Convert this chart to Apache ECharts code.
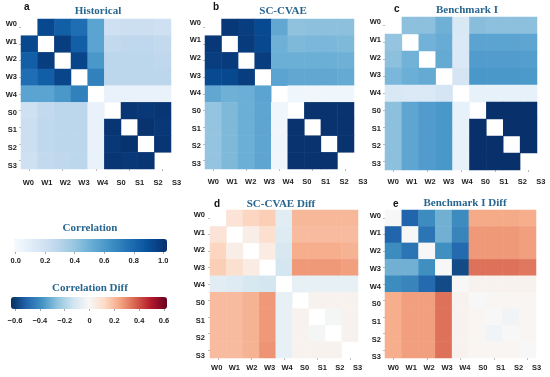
<!DOCTYPE html>
<html><head><meta charset="utf-8">
<script src="https://cdn.jsdelivr.net/npm/echarts@6/dist/echarts.min.js"></script>
<style>html,body{margin:0;padding:0;background:#fff}#c{width:550px;height:377px}</style>
</head><body><div id="c"></div>
<script>
// ---------- data ----------
const labels = ['W0','W1','W2','W3','W4','S0','S1','S2','S3'];

const historical = [
  [null,0.91,0.82,0.76,0.55,0.21,0.22,0.22,0.21],
  [0.91,null,0.95,0.82,0.55,0.26,0.27,0.27,0.26],
  [0.82,0.95,null,0.92,0.60,0.28,0.28,0.28,0.27],
  [0.76,0.82,0.92,null,0.69,0.28,0.28,0.28,0.28],
  [0.55,0.55,0.60,0.69,null,0.07,0.07,0.07,0.07],
  [0.21,0.26,0.28,0.28,0.07,null,0.98,0.97,0.98],
  [0.22,0.27,0.28,0.28,0.07,0.98,null,0.99,0.97],
  [0.22,0.27,0.28,0.28,0.07,0.97,0.99,null,0.98],
  [0.21,0.26,0.27,0.28,0.07,0.98,0.97,0.98,null]
];
const scCvae = [
  [null,0.97,0.95,0.90,0.53,0.41,0.42,0.42,0.42],
  [0.97,null,0.96,0.91,0.49,0.45,0.46,0.46,0.45],
  [0.95,0.96,null,0.95,0.50,0.50,0.50,0.50,0.49],
  [0.90,0.91,0.95,null,0.55,0.53,0.53,0.53,0.52],
  [0.53,0.49,0.50,0.55,null,0.04,0.04,0.04,0.04],
  [0.40,0.45,0.50,0.54,0.04,null,0.99,0.99,0.99],
  [0.40,0.45,0.50,0.54,0.04,0.99,null,0.99,0.99],
  [0.40,0.45,0.50,0.54,0.04,0.99,0.99,null,0.99],
  [0.40,0.45,0.50,0.54,0.04,0.99,0.99,0.99,null]
];
const benchmark = [
  [null,0.42,0.42,0.49,0.15,0.43,0.42,0.42,0.42],
  [0.40,null,0.48,0.51,0.14,0.55,0.55,0.55,0.54],
  [0.42,0.48,null,0.52,0.14,0.58,0.58,0.58,0.57],
  [0.46,0.50,0.52,null,0.17,0.60,0.60,0.60,0.59],
  [0.15,0.14,0.14,0.17,null,0.08,0.08,0.08,0.08],
  [0.42,0.54,0.58,0.60,0.08,null,1.00,1.00,1.00],
  [0.42,0.54,0.58,0.60,0.08,1.00,null,1.00,1.00],
  [0.42,0.54,0.58,0.60,0.08,1.00,1.00,null,1.00],
  [0.42,0.54,0.58,0.60,0.08,1.00,1.00,1.00,null]
];
const scCvaeDiff = [
  [null,0.08,0.13,0.15,-0.07,0.20,0.20,0.20,0.20],
  [0.08,null,0.04,0.10,-0.08,0.19,0.19,0.19,0.19],
  [0.13,0.04,null,0.05,-0.10,0.22,0.22,0.22,0.21],
  [0.15,0.10,0.05,null,-0.11,0.26,0.26,0.26,0.25],
  [-0.07,-0.08,-0.10,-0.11,null,-0.05,-0.05,-0.05,-0.05],
  [0.19,0.19,0.21,0.26,-0.05,null,0.02,0.02,0.02],
  [0.19,0.19,0.21,0.26,-0.05,0.02,null,-0.01,0.02],
  [0.19,0.19,0.21,0.26,-0.05,0.02,-0.01,null,0.02],
  [0.19,0.19,0.21,0.27,-0.05,0.02,0.02,0.02,null]
];
const benchmarkDiff = [
  [0.00,-0.48,-0.38,-0.29,-0.38,0.23,0.23,0.23,0.22],
  [-0.48,0.00,-0.44,-0.29,-0.40,0.26,0.26,0.26,0.25],
  [-0.38,-0.44,0.00,-0.37,-0.47,0.26,0.26,0.26,0.25],
  [-0.29,-0.29,-0.37,0.00,-0.54,0.33,0.33,0.33,0.32],
  [-0.38,-0.40,-0.47,-0.54,0.00,0.02,0.02,0.02,0.02],
  [0.22,0.25,0.25,0.33,0.02,0.00,0.01,0.01,0.01],
  [0.22,0.25,0.25,0.33,0.02,0.01,0.00,-0.02,0.01],
  [0.22,0.25,0.25,0.33,0.02,0.01,-0.02,0.00,0.01],
  [0.22,0.25,0.25,0.33,0.02,0.01,0.01,0.01,0.00]
];
const corrTicks = ['0.0','0.2','0.4','0.6','0.8','1.0'];
const diffTicks = ['\u22120.6','\u22120.4','\u22120.2','0','0.2','0.4','0.6'];
const corrRange = [0, 1];
const diffRange = [-0.6, 0.6];
const titles = ['Historical','SC-CVAE','Benchmark I','SC-CVAE Diff','Benchmark I Diff'];
const letters = ['a','b','c','d','e'];

// ---------- styles / layout ----------
const blues = ['#f7fbff','#deebf7','#c6dbef','#9ecae1','#6baed6','#4292c6','#2171b5','#08519c','#08306b'];
const rdbuR = ['#053061','#2166ac','#4393c3','#92c5de','#d1e5f0','#f7f7f7','#fddbc7','#f4a582','#d6604d','#b2182b','#67001f'];
const titleColor = '#28668f';
const matrices = [historical, scCvae, benchmark, scCvaeDiff, benchmarkDiff];
const layout = [
  {g:[21,19,150,150],  x0:28.3, dx:18.55, y0:24.0, dy:17.71, xLabY:182.7, yRight:17,  letter:[24,7],   tX:98,  tY:11},
  {g:[205,19,149,150], x0:213.3,dx:18.7,  y0:22.7, dy:17.66, xLabY:182.3, yRight:201, letter:[213,7],  tX:283, tY:11},
  {g:[385,17,152,153], x0:393.3,dx:18.55, y0:22.3, dy:17.7,  xLabY:182.3, yRight:381, letter:[394,9],  tX:467, tY:10},
  {g:[210,210,148,148],x0:216.7,dx:17.6,  y0:215.0,dy:17.6,  xLabY:368.3, yRight:205, letter:[214,204],tX:281, tY:204},
  {g:[385,210,151,148],x0:393.3,dx:17.9,  y0:215.7,dy:17.7,  xLabY:368.3, yRight:381, letter:[393,204],tX:465, tY:203}
];
const labFont = {fontFamily:'Liberation Sans', fontWeight:'bold', fontSize:7.5, color:'#222'};

function cells(m){
  const out = [];
  m.forEach((row,i)=>row.forEach((v,j)=>{ if(v!==null) out.push([j,i,v]); }));
  return out;
}

const grid=[], xAxis=[], yAxis=[], series=[], graphic=[];
layout.forEach((L,p)=>{
  // main grid
  grid.push({left:L.g[0], top:L.g[1], width:L.g[2], height:L.g[3]});
  const gi = grid.length-1;
  xAxis.push({type:'category', gridIndex:gi, data:labels, position:'bottom',
    axisLine:{show:false}, axisLabel:{show:false}, splitLine:{show:false},
    axisTick:{show:true, alignWithLabel:true, length:2, lineStyle:{color:'#bbb'}}});
  yAxis.push({type:'category', gridIndex:gi, data:labels, inverse:true,
    axisLine:{show:false}, axisLabel:{show:false}, splitLine:{show:false},
    axisTick:{show:true, alignWithLabel:true, length:2, lineStyle:{color:'#bbb'}}});
  series.push({type:'heatmap', xAxisIndex:gi, yAxisIndex:gi, data:cells(matrices[p]),
    itemStyle:{borderWidth:0}, emphasis:{disabled:true}, progressive:0});
  // label grid
  const lLeft = L.x0 - L.dx/2, lTop = L.y0 - L.dy/2, lW = 9*L.dx, lH = 9*L.dy;
  grid.push({left:lLeft, top:lTop, width:lW, height:lH});
  const li = grid.length-1;
  xAxis.push({type:'category', gridIndex:li, data:labels, position:'bottom',
    axisLine:{show:false}, axisTick:{show:false}, splitLine:{show:false},
    axisLabel:Object.assign({margin:L.xLabY-(lTop+lH)-4, interval:0}, labFont)});
  yAxis.push({type:'category', gridIndex:li, data:labels, inverse:true,
    axisLine:{show:false}, axisTick:{show:false}, splitLine:{show:false},
    axisLabel:Object.assign({margin:lLeft-L.yRight, interval:0, align:'right'}, labFont)});
  graphic.push({type:'text', x:L.tX, y:L.tY, style:{text:titles[p], fill:titleColor,
    fontFamily:'Liberation Serif', fontWeight:'bold', fontSize:11, textAlign:'center', textVerticalAlign:'middle'}});
  graphic.push({type:'text', x:L.letter[0], y:L.letter[1], style:{text:letters[p], fill:'#111',
    fontFamily:'Liberation Sans', fontWeight:'bold', fontSize:10, textAlign:'left', textVerticalAlign:'middle'}});
});

// colorbar tick axes
const cbars = [
  {ticks:corrTicks, left:15.7, width:147.6, top:251, lab:261, title:'Correlation', tY:228},
  {ticks:diffTicks, left:15,   width:149,   top:308, lab:321, title:'Correlation Diff', tY:288}
];
cbars.forEach(C=>{
  grid.push({left:C.left, top:C.top, width:C.width, height:1});
  const ci = grid.length-1;
  xAxis.push({type:'category', gridIndex:ci, data:C.ticks, boundaryGap:false, position:'bottom',
    axisLine:{show:false}, splitLine:{show:false},
    axisTick:{show:true, length:2, lineStyle:{color:'#aaa'}, interval:0},
    axisLabel:Object.assign({margin:C.lab-(C.top+1)-4, interval:0}, labFont)});
  yAxis.push({type:'value', gridIndex:ci, show:false});
  graphic.push({type:'text', x:90, y:C.tY, style:{text:C.title, fill:titleColor,
    fontFamily:'Liberation Serif', fontWeight:'bold', fontSize:11, textAlign:'center', textVerticalAlign:'middle'}});
});

const option = {
  backgroundColor:'#fff',
  animation:false,
  grid, xAxis, yAxis, series, graphic,
  visualMap:[
    {type:'continuous', min:corrRange[0], max:corrRange[1], seriesIndex:[0,1,2], orient:'horizontal',
     left:14, top:239, itemWidth:13, itemHeight:153, calculable:false, padding:0, hoverLink:false,
     inRange:{color:blues}},
    {type:'continuous', min:diffRange[0], max:diffRange[1], seriesIndex:[3,4], orient:'horizontal',
     left:11, top:297, itemWidth:12, itemHeight:156, calculable:false, padding:0, hoverLink:false,
     inRange:{color:rdbuR}}
  ]
};
echarts.init(document.getElementById('c'), null, {renderer:'canvas'}).setOption(option);
</script></body></html>
